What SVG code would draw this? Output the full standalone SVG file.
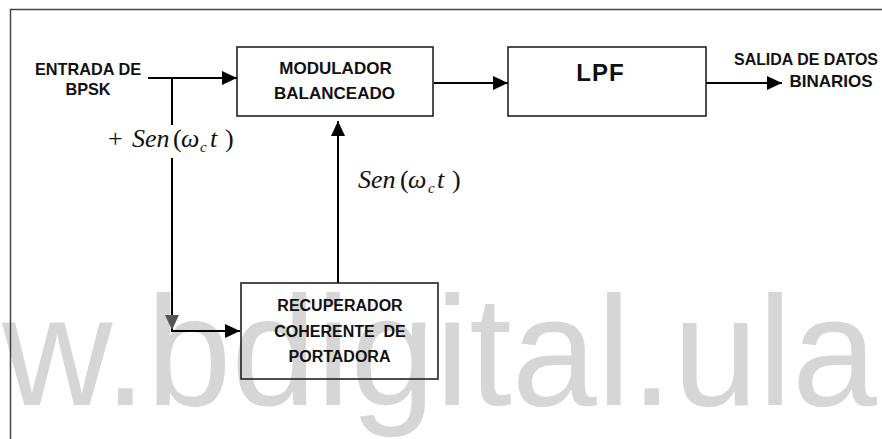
<svg xmlns="http://www.w3.org/2000/svg" width="882" height="439" viewBox="0 0 882 439">
<defs>
<style>
.box{fill:none;stroke:#222;stroke-width:1.6}
.lbl{font-family:"Liberation Sans",Arial,sans-serif;font-weight:bold;fill:#111;font-size:16px}
.wire{fill:none;stroke:#000;stroke-width:2}
.math{font-family:"Liberation Serif","Times New Roman",serif;fill:#111;font-size:26px}
.it{font-style:italic}
</style>
<marker id="ah" markerUnits="userSpaceOnUse" markerWidth="16" markerHeight="14" refX="15" refY="7" orient="auto">
<path d="M0,0 L15,7 L0,14 Z" fill="#000"/>
</marker>
<marker id="ahg" markerUnits="userSpaceOnUse" markerWidth="16" markerHeight="14" refX="15" refY="7" orient="auto">
<path d="M0,0 L15,7 L0,14 Z" fill="#555"/>
</marker>
</defs>
<rect width="882" height="439" fill="#fff"/>
<text x="2" y="405" font-family="Liberation Sans,Arial,sans-serif" font-size="156" fill="#d6d6d6" textLength="875" lengthAdjust="spacingAndGlyphs">w.bdigital.ula</text>
<path d="M10.5,439 V9.5 H882" fill="none" stroke="#444" stroke-width="1.5"/>

<g id="mod">
<rect class="box" x="237" y="47" width="196" height="69"/>
<text class="lbl" x="335.5" y="74" text-anchor="middle" style="font-size:17px">MODULADOR</text>
<text class="lbl" x="334.5" y="99" text-anchor="middle" style="font-size:17px">BALANCEADO</text>
</g>
<g id="lpf">
<rect class="box" x="508" y="47" width="198" height="69"/>
<text class="lbl" x="600.5" y="81" text-anchor="middle" style="font-size:24px" letter-spacing="1">LPF</text>
</g>
<g id="rec">
<rect class="box" x="241" y="283" width="197" height="96"/>
<text class="lbl" x="340" y="311" text-anchor="middle">RECUPERADOR</text>
<text class="lbl" x="340" y="337" text-anchor="middle" xml:space="preserve">COHERENTE  DE</text>
<text class="lbl" x="339.5" y="362" text-anchor="middle">PORTADORA</text>
</g>
<g id="in">
<text class="lbl" x="88" y="75" text-anchor="middle" style="font-size:16.3px">ENTRADA DE</text>
<text class="lbl" x="88" y="95" text-anchor="middle" style="font-size:16.3px">BPSK</text>
</g>
<g id="out">
<text class="lbl" x="734" y="65" textLength="144" lengthAdjust="spacingAndGlyphs">SALIDA DE DATOS</text>
<text class="lbl" x="831" y="87" text-anchor="middle" style="font-size:17px">BINARIOS</text>
</g>

<g id="connectors">
<line class="wire" x1="148" y1="78" x2="237" y2="78" marker-end="url(#ah)"/>
<line class="wire" x1="172" y1="78" x2="172" y2="125"/>
<line class="wire" x1="172" y1="158" x2="172" y2="330" marker-end="url(#ahg)"/>
<line class="wire" x1="171" y1="331" x2="240" y2="331" marker-end="url(#ah)"/>
<line class="wire" x1="434" y1="83" x2="508" y2="83" marker-end="url(#ah)"/>
<line class="wire" x1="706" y1="83" x2="782" y2="83" marker-end="url(#ah)"/>
<line class="wire" x1="338" y1="283" x2="338" y2="121" marker-end="url(#ah)"/>
</g>

<g id="labels">
<text class="math" y="147"><tspan x="108">+</tspan><tspan class="it" x="132">Sen</tspan><tspan x="173">(</tspan><tspan class="it" x="181">ω</tspan><tspan class="it" x="200" dy="5" font-size="15">c</tspan><tspan class="it" x="210" dy="-5">t</tspan><tspan x="225">)</tspan></text>
<text class="math" y="188"><tspan class="it" x="358">Sen</tspan><tspan x="400">(</tspan><tspan class="it" x="408">ω</tspan><tspan class="it" x="428" dy="5" font-size="15">c</tspan><tspan class="it" x="437" dy="-5">t</tspan><tspan x="452">)</tspan></text>
</g>
</svg>
